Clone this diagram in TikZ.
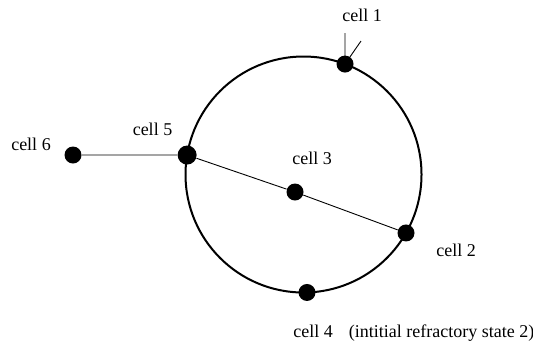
\documentclass[tikz,border=0pt]{standalone}
\usepackage{fontspec}
\setmainfont{Liberation Serif}
\newfontfamily\cellfont{Liberation Serif}
\usetikzlibrary{calc}

\begin{document}
\begin{tikzpicture}[x=0.5pt, y=-0.5pt,
  cell/.style={circle, fill=black, inner sep=0pt, minimum size=8.5pt},
  bigcell/.style={cell, minimum size=9.5pt},
  lbl/.style={font=\cellfont\fontsize{9}{11}\selectfont, inner sep=0pt},
  wire/.style={draw=black, line width=0.45pt},
  ring/.style={draw=black, line width=1pt},
]
  \useasboundingbox (0,0) rectangle (533,345);
  \coordinate (ctr) at (303.5,174.5);
  \draw[ring] (ctr) circle[radius=59pt];
  % cells on the ring
  \node[cell] (c1) at ($(ctr)+(69.4:59pt)$) {};
  \node[bigcell] (c5) at ($(ctr)+(170.5:59pt)$) {};
  \node[cell] (c2) at ($(ctr)+(-29.7:59pt)$) {};
  \node[cell] (c4) at ($(ctr)+(-88.3:59pt)$) {};
  % inner and outer cells
  \node[cell] (c3) at (295,192) {};
  \node[cell] (c6) at (73,155) {};
  \coordinate (in1a) at (345,33);
  \coordinate (in1b) at (361,41);
  \draw[wire] (c6) -- (c5);
  \draw[wire] (c5) -- (c3) -- (c2);
  \draw[wire] (in1a) -- (c1.center);
  \draw[wire] (in1b) -- (c1.center);
  % labels
  \node[lbl] (l1) at (362,15) {cell 1};
  \node[lbl] (l5) at (152.5,129) {cell 5};
  \node[lbl] (l6) at (31,144) {cell 6};
  \node[lbl] (l3) at (312,158) {cell 3};
  \node[lbl] (l2) at (456,250) {cell 2};
  \node[lbl, anchor=west] (l4) at (293,333) {cell 4\hspace{8pt}(intitial refractory state 2)};
\end{tikzpicture}
\end{document}
